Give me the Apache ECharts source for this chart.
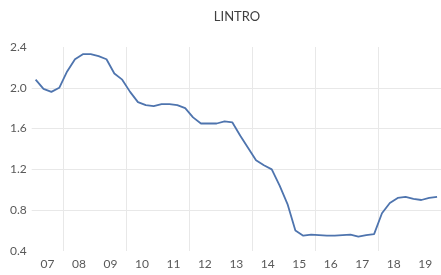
<!DOCTYPE html>
<html>
<head>
<meta charset="utf-8">
<script src="https://cdn.jsdelivr.net/npm/echarts@6/dist/echarts.min.js"></script>
<style>
html,body{margin:0;padding:0;background:#fff;}
#c{width:441px;height:275px;}
</style>
</head>
<body>
<div id="c"></div>
<script>
var yearLabels = ['07','08','09','10','11','12','13','14','15','16','17','18','19'];
var quarters = [];
for (var y = 2007; y <= 2019; y++) { for (var q = 1; q <= 4; q++) { quarters.push(y + 'Q' + q); } }
var lintro = [
  2.08, 1.99, 1.96, 2.00,
  2.16, 2.28, 2.33, 2.33,
  2.31, 2.28, 2.14, 2.08,
  1.96, 1.86, 1.83, 1.82,
  1.84, 1.84, 1.83, 1.80,
  1.71, 1.65, 1.65, 1.65,
  1.67, 1.66, 1.53, 1.41,
  1.29, 1.24, 1.20, 1.04,
  0.86, 0.60, 0.55, 0.56,
  0.555, 0.55, 0.55, 0.555,
  0.56, 0.54, 0.555, 0.565,
  0.77, 0.87, 0.92, 0.93,
  0.91, 0.90, 0.92, 0.93
];
var yTicks = {min: 0.4, max: 2.4, interval: 0.4};

var chart = echarts.init(document.getElementById('c'), null, {renderer: 'canvas'});
chart.setOption({
  animation: false,
  backgroundColor: '#ffffff',
  title: {
    text: 'LINTRO',
    left: 237,
    top: 10,
    padding: 0,
    textAlign: 'center',
    textStyle: {fontFamily: 'Lato', fontSize: 13, fontWeight: 'normal', color: '#404040'}
  },
  grid: {left: 31.7, right: -2.3, top: 47, bottom: 24, containLabel: false},
  xAxis: [
    {
      type: 'category',
      data: yearLabels,
      boundaryGap: true,
      position: 'bottom',
      axisLine: {show: false},
      axisTick: {show: false},
      axisLabel: {fontFamily: 'Lato', fontSize: 12, color: '#595959', margin: 7, interval: 0},
      splitLine: {show: true, interval: function (i) { return i % 2 === 1; }, lineStyle: {color: '#e8e8e8', width: 1}}
    },
    {
      type: 'category',
      data: quarters,
      boundaryGap: true,
      position: 'bottom',
      show: false
    }
  ],
  yAxis: {
    type: 'value',
    min: yTicks.min,
    max: yTicks.max,
    interval: yTicks.interval,
    axisLine: {show: false},
    axisTick: {show: false},
    axisLabel: {fontFamily: 'Lato', fontSize: 12, color: '#595959', margin: 5, formatter: function (v) { return v.toFixed(1); }},
    splitLine: {showMinLine: false, showMaxLine: false, lineStyle: {color: '#e8e8e8', width: 1}}
  },
  series: [{
    type: 'line',
    xAxisIndex: 1,
    data: lintro,
    showSymbol: false,
    symbol: 'none',
    lineStyle: {color: '#4e74ae', width: 1.8},
    smooth: false
  }]
});
</script>
</body>
</html>
